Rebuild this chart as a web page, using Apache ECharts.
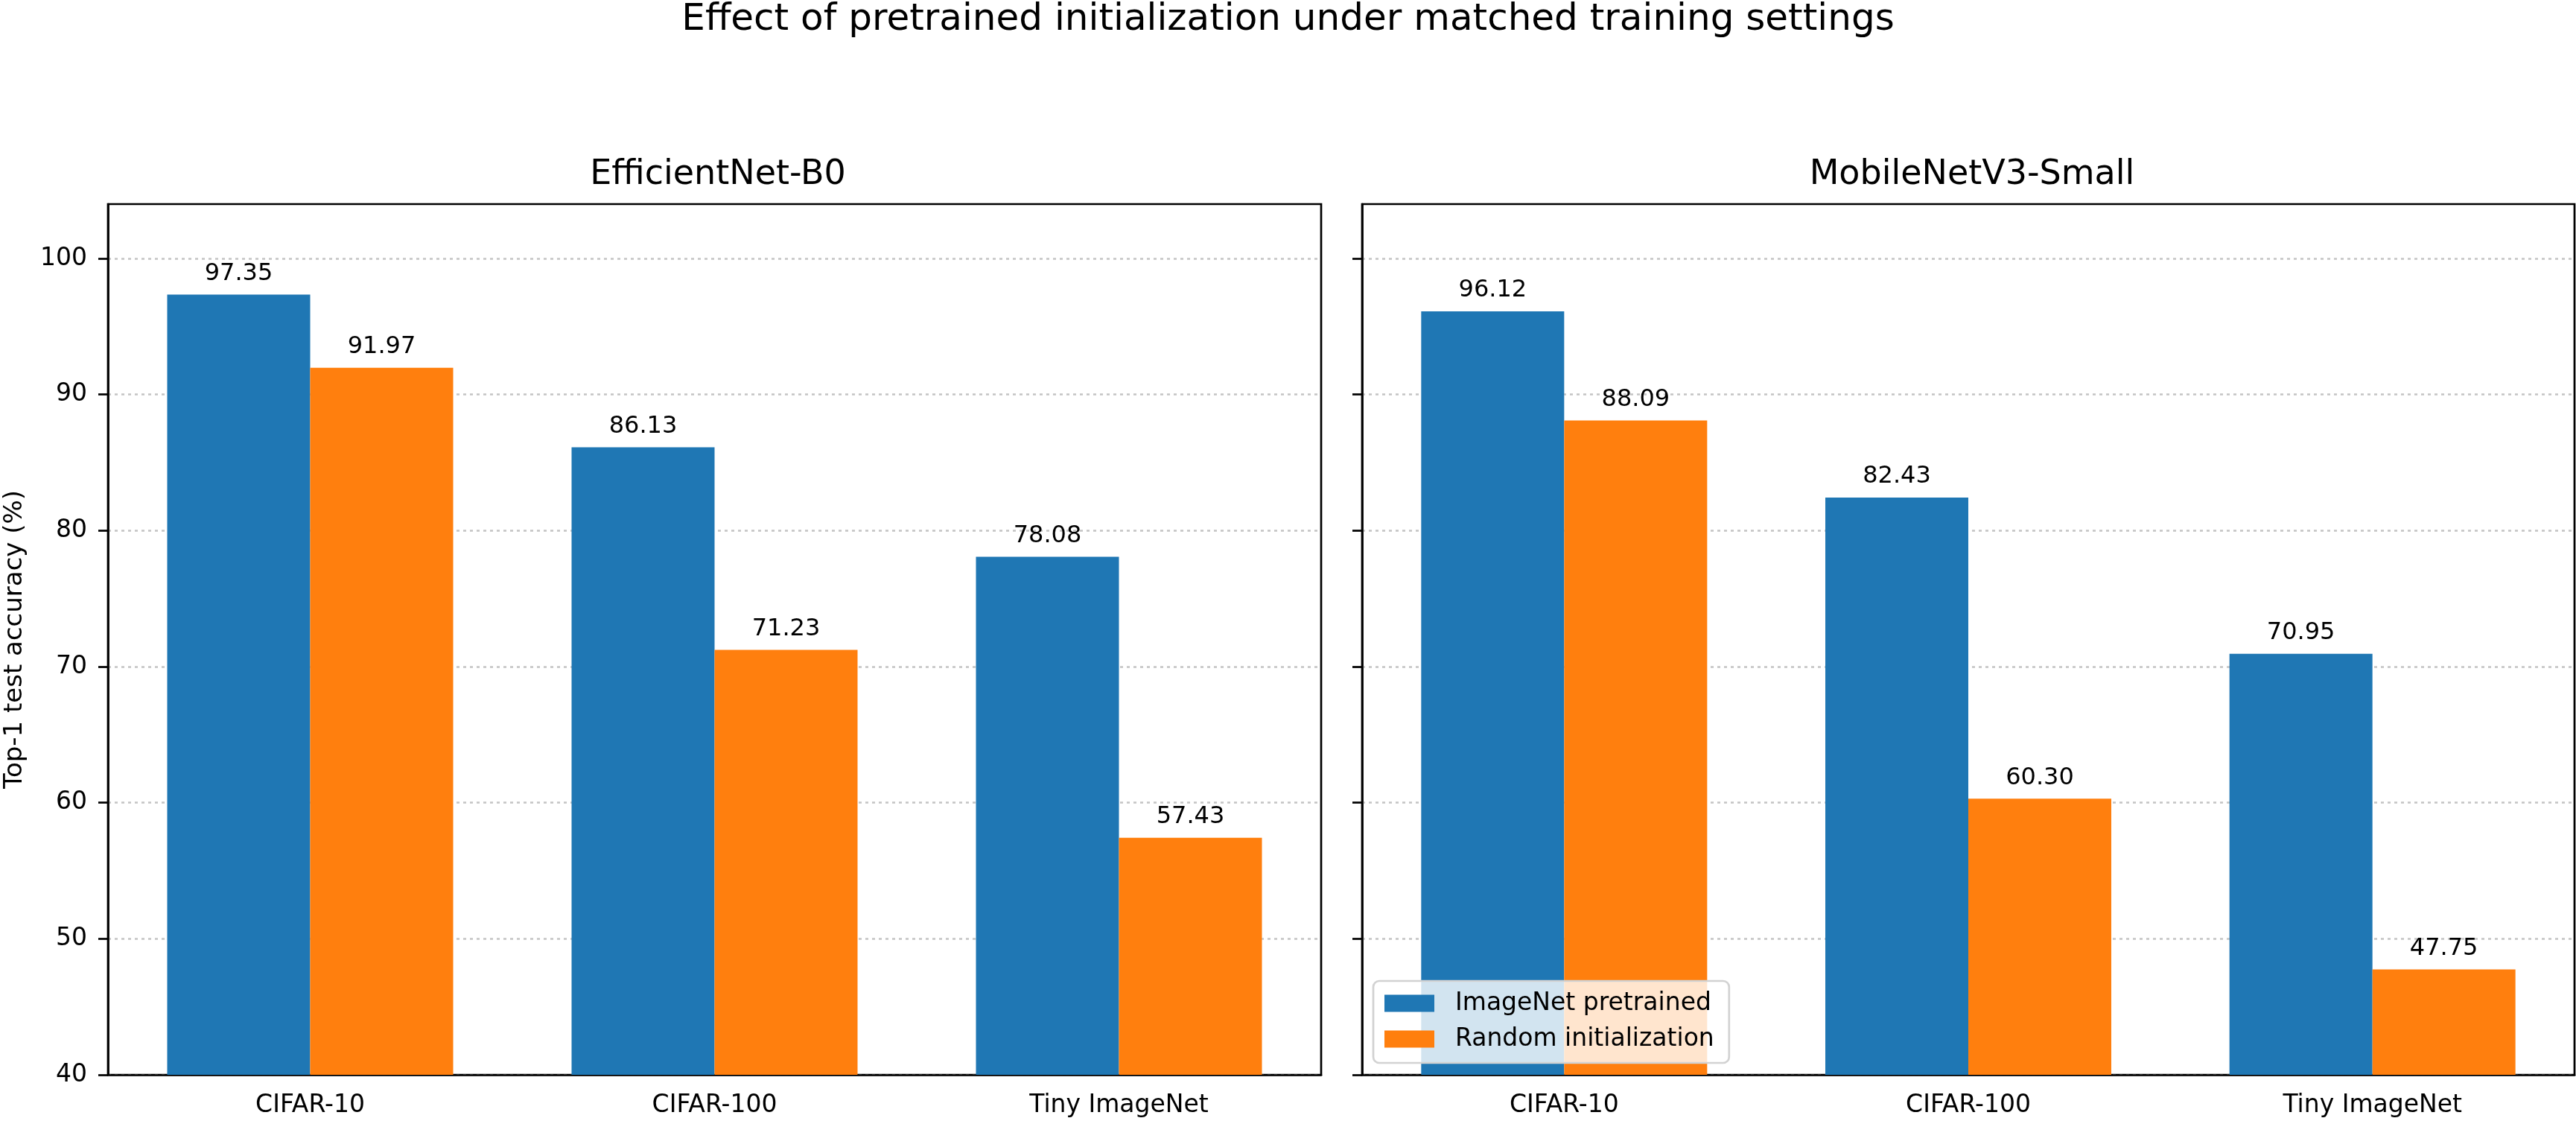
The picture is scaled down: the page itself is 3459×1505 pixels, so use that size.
<!DOCTYPE html>
<html>
<head>
<meta charset="utf-8">
<title>Effect of pretrained initialization</title>
<script src="https://cdn.jsdelivr.net/npm/echarts@6/dist/echarts.min.js"></script>
<style>
  html, body { margin: 0; padding: 0; background: #fff; }
  #main { width: 3459px; height: 1505px; }
</style>
</head>
<body>
<div id="main"></div>
<script>
// data
var datasets = ['CIFAR-10', 'CIFAR-100', 'Tiny ImageNet'];
var models = ['EfficientNet-B0', 'MobileNetV3-Small'];
var seriesNames = ['ImageNet pretrained', 'Random initialization'];
var effPretrained = [97.35, 86.13, 78.08];
var effRandom = [91.97, 71.23, 57.43];
var mobPretrained = [96.12, 82.43, 70.95];
var mobRandom = [88.09, 60.30, 47.75];
var yTicks = [40, 50, 60, 70, 80, 90, 100];

var font = 'DejaVu Sans';
var colors = ['#1f77b4', '#ff7f0e'];

var chart = echarts.init(document.getElementById('main'));

function xAxisFor(idx) {
  return {
    type: 'category',
    gridIndex: idx,
    data: datasets,
    axisLine: { lineStyle: { color: '#000', width: 2.7 } },
    axisTick: { alignWithLabel: true, length: 13, lineStyle: { color: '#000', width: 2.7 } },
    axisLabel: { color: '#000', fontFamily: font, fontSize: 33, margin: 25 }
  };
}

function yAxisFor(idx) {
  return {
    type: 'value',
    gridIndex: idx,
    min: 40,
    max: 104,
    interval: 10,
    name: idx === 0 ? 'Top-1 test accuracy (%)' : '',
    nameLocation: 'middle',
    nameGap: 108,
    nameTextStyle: { color: '#000', fontFamily: font, fontSize: 34 },
    axisLine: { show: true, lineStyle: { color: '#000', width: 2.7 } },
    axisTick: { show: true, length: 13, customValues: yTicks, lineStyle: { color: '#000', width: 2.7 } },
    axisLabel: { show: idx === 0, customValues: yTicks, color: '#000', fontFamily: font, fontSize: 33, margin: 28 },
    splitLine: { show: true, lineStyle: { color: '#c4c4c4', width: 2.7, type: [4, 5] } }
  };
}

function barSeries(name, values, idx, color) {
  return {
    name: name,
    type: 'bar',
    xAxisIndex: idx,
    yAxisIndex: idx,
    data: values,
    barWidth: 192,
    barGap: '0%',
    itemStyle: { color: color },
    label: {
      show: true,
      position: 'top',
      distance: 12,
      color: '#000',
      fontFamily: font,
      fontSize: 32,
      formatter: function (p) { return p.value.toFixed(2); }
    }
  };
}

chart.setOption({
  animation: false,
  backgroundColor: '#fff',
  textStyle: { fontFamily: font },
  title: [
    { text: 'Effect of pretrained initialization under matched training settings', left: 'center', top: -3,
      textStyle: { fontFamily: font, fontSize: 50, fontWeight: 'normal', color: '#000' } },
    { text: models[0], left: 959, textAlign: 'center', top: 207,
      textStyle: { fontFamily: font, fontSize: 46, fontWeight: 'normal', color: '#000' } },
    { text: models[1], left: 2643, textAlign: 'center', top: 207,
      textStyle: { fontFamily: font, fontSize: 46, fontWeight: 'normal', color: '#000' } }
  ],
  legend: {
    data: seriesNames,
    orient: 'vertical',
    left: 1844,
    top: 1317,
    icon: 'rect',
    itemWidth: 67,
    itemHeight: 23,
    itemGap: 8,
    padding: [10, 20, 12, 15],
    backgroundColor: 'rgba(255,255,255,0.8)',
    borderColor: '#d2d2d2',
    borderWidth: 2.7,
    borderRadius: 8,
    textStyle: { fontFamily: font, fontSize: 33, lineHeight: 40, color: '#000', padding: [0, 0, 0, 23] }
  },
  grid: [
    { left: 145, right: 1685, top: 274, bottom: 62, show: true, borderColor: '#000', borderWidth: 2.7 },
    { left: 1829, right: 2, top: 274, bottom: 62, show: true, borderColor: '#000', borderWidth: 2.7 }
  ],
  xAxis: [xAxisFor(0), xAxisFor(1)],
  yAxis: [yAxisFor(0), yAxisFor(1)],
  series: [
    barSeries(seriesNames[0], effPretrained, 0, colors[0]),
    barSeries(seriesNames[1], effRandom, 0, colors[1]),
    barSeries(seriesNames[0], mobPretrained, 1, colors[0]),
    barSeries(seriesNames[1], mobRandom, 1, colors[1])
  ]
});
</script>
</body>
</html>
